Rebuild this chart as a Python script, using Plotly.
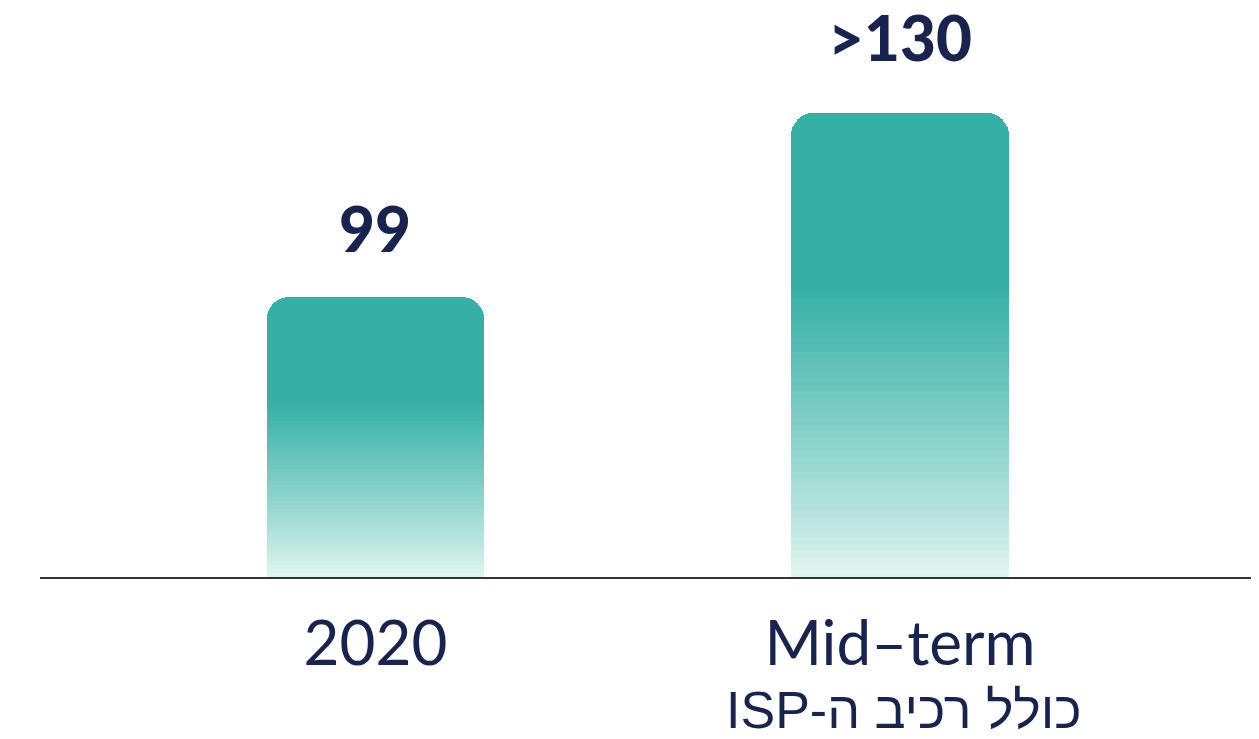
import plotly.graph_objects as go

# ---- data ----
categories = ["2020", "Mid–term"]
bar_heights = [99, 164]          # drawn bar heights
value_labels = ["99", ">130"]
sub_labels = ["", "\u202bכולל רכיב ה-ISP\u202c"]

NAVY = "#18244f"
SOLID = (54, 176, 166)
LIGHT = (228, 246, 241)
N = 70
SOLID_FROM = 0.62  # fraction of bar height from bottom above which colour is solid


def seg_color(t):
    if t >= SOLID_FROM:
        c = SOLID
    else:
        u = t / SOLID_FROM
        u = u ** 0.9
        c = tuple(LIGHT[i] + (SOLID[i] - LIGHT[i]) * u for i in range(3))
    return "rgb(%d,%d,%d)" % tuple(round(v) for v in c)


x_pos = list(range(len(categories)))
fig = go.Figure()
for k in range(N):
    t = (k + 0.5) / N
    fig.add_trace(go.Bar(
        x=x_pos,
        y=[h / N for h in bar_heights],
        width=0.414,
        marker=dict(color=seg_color(t), line=dict(width=0)),
        hoverinfo="skip",
        showlegend=False,
    ))

label_shift = [30, 37]
for i, (h, lab) in enumerate(zip(bar_heights, value_labels)):
    fig.add_annotation(
        x=x_pos[i], y=h, xref="x", yref="y", text=lab, showarrow=False,
        yanchor="bottom", yshift=label_shift[i],
        font=dict(family="Lato", size=62, color=NAVY, weight=900),
    )

for i, s in enumerate(sub_labels):
    if s:
        fig.add_annotation(
            x=x_pos[i], y=0, xref="x", yref="paper", text=s, showarrow=False,
            yanchor="top", yshift=-102, xshift=4,
            font=dict(family="Liberation Sans", size=52, color=NAVY),
        )

fig.update_layout(
    width=1251, height=731,
    margin=dict(l=32, r=0, t=0, b=162),
    paper_bgcolor="white", plot_bgcolor="white",
    barmode="stack", barcornerradius=22, bargap=0,
    xaxis=dict(
        range=[-0.6396, 1.6845], tickvals=x_pos, ticktext=categories,
        showline=True, linecolor="#333333", linewidth=2, ticks="",
        showgrid=False, zeroline=False, ticklabelstandoff=12,
        tickfont=dict(family="Lato", size=62, color=NAVY),
        fixedrange=True,
    ),
    yaxis=dict(range=[0, 201.2], visible=False, showgrid=False, zeroline=False, fixedrange=True),
)

fig.write_html("out.html")
